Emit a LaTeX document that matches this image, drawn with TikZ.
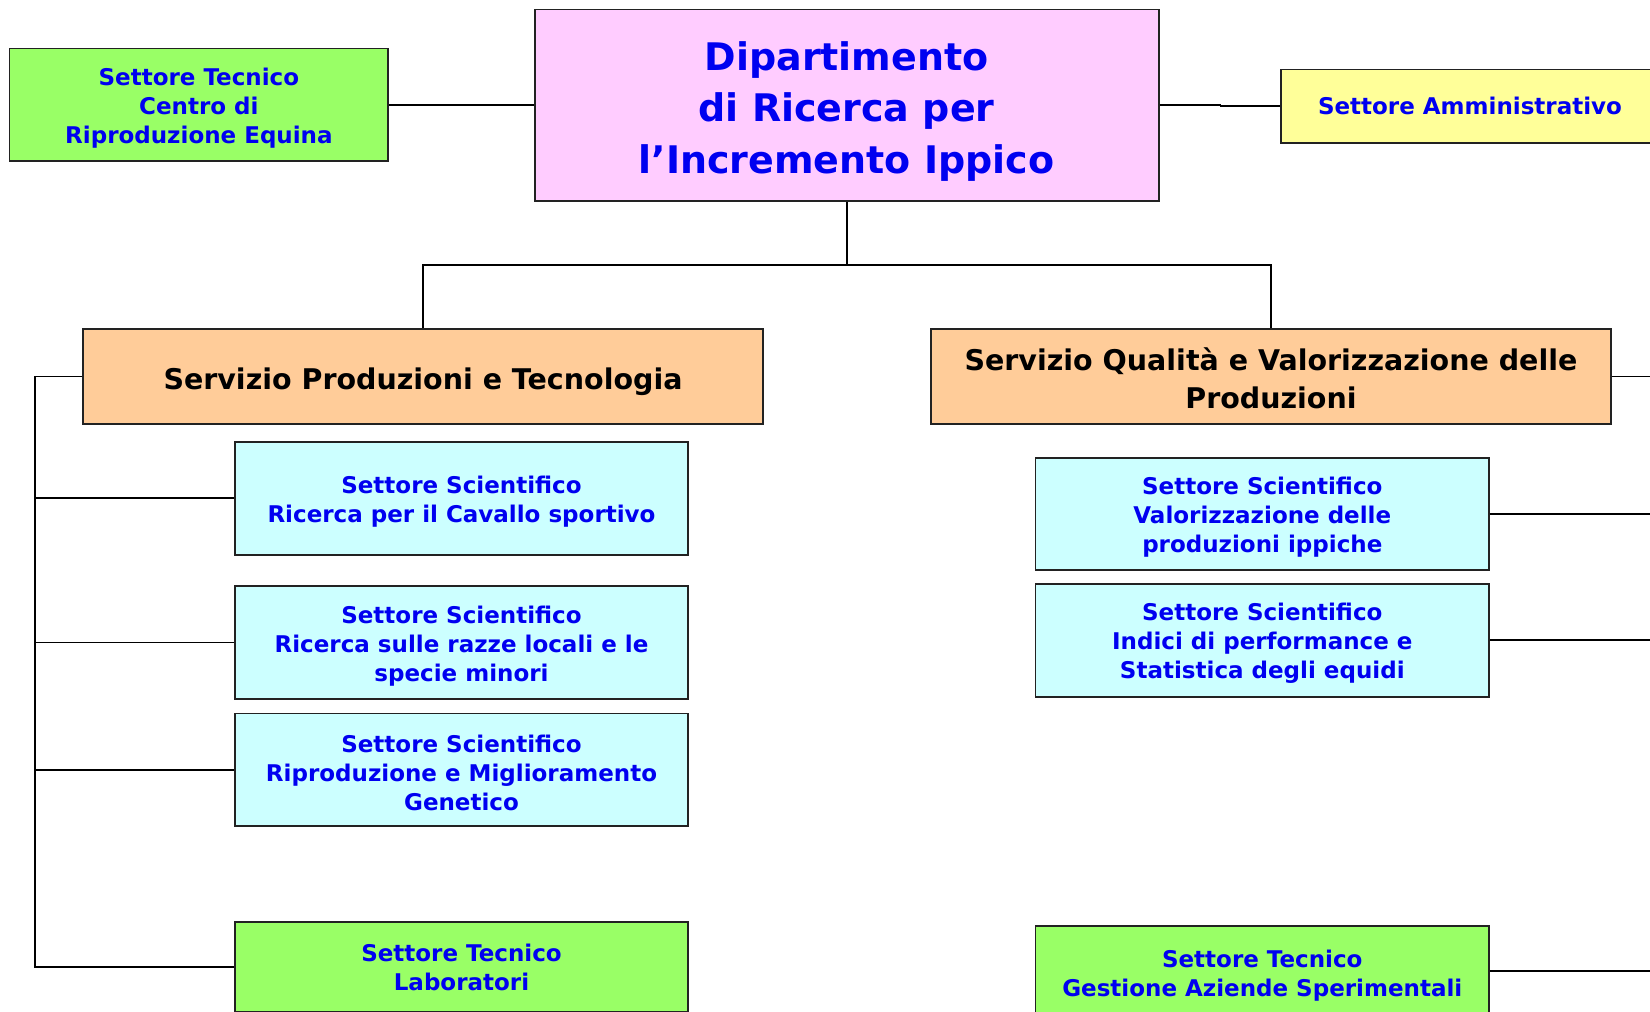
\documentclass[tikz,border=0pt]{standalone}
\usepackage{fontspec}
\setmainfont{DejaVu Sans}
\definecolor{pinkbg}{HTML}{FFCCFF}
\definecolor{greenbg}{HTML}{99FF66}
\definecolor{yellowbg}{HTML}{FFFF99}
\definecolor{orangebg}{HTML}{FFCC99}
\definecolor{cyanbg}{HTML}{CCFFFF}
\definecolor{txtblue}{HTML}{0000F0}
\definecolor{edge}{HTML}{222222}
\newcommand\lnup[1]{\rule{0pt}{#1pt}}
\tikzset{
  box/.style={draw=edge, line width=1.8pt, inner sep=0pt, align=center, text=txtblue,
    font=\bfseries\fontsize{23}{29}\selectfont},
  greenbox/.style={box, fill=greenbg},
  cyanbox/.style={box, fill=cyanbg, minimum width=453.5pt, minimum height=112.6pt},
  orangebox/.style={box, fill=orangebg, text=black, minimum width=680pt, minimum height=95pt,
    font=\bfseries\fontsize{28.5}{38}\selectfont},
  conn/.style={draw=black, line width=1.8pt},
}
\begin{document}
\begin{tikzpicture}[x=1pt,y=-1pt]
\useasboundingbox (0,0) rectangle (1650,1012);
\clip (0,0) rectangle (1650,1012);
% nodes
\node[box, fill=pinkbg, minimum width=624pt, minimum height=191.5pt,
  font=\bfseries\fontsize{38}{51.5}\selectfont] (main) at (846.6,105.2)
  {\lnup{41}Dipartimento\\di Ricerca per\\l’Incremento Ippico};
\node[greenbox, minimum width=378.8pt, minimum height=112.6pt] (ctr) at (198.9,104.7)
  {\lnup{24}Settore Tecnico\\Centro di\\Riproduzione Equina};
\node[box, fill=yellowbg, minimum width=378pt, minimum height=73.6pt] (amm) at (1470,106.3)
  {Settore Amministrativo};
\node[orangebox] (sp) at (423,376.5) {\lnup{32}Servizio Produzioni e Tecnologia};
\node[orangebox] (sq) at (1271,376.5) {\lnup{26}Servizio Qualità e Valorizzazione delle\\Produzioni};
\node[cyanbox] (s1) at (461.5,498.3)
  {\lnup{24}Settore Scientifico\\Ricerca per il Cavallo sportivo};
\node[cyanbox] (s2) at (461.5,642.4)
  {\lnup{24}Settore Scientifico\\Ricerca sulle razze locali e le\\specie minori};
\node[cyanbox] (s3) at (461.5,769.8)
  {\lnup{24}Settore Scientifico\\Riproduzione e Miglioramento\\Genetico};
\node[greenbox, minimum width=453.5pt, minimum height=90pt] (lab) at (461.5,967)
  {Settore Tecnico\\Laboratori};
\node[cyanbox] (q1) at (1262.3,514)
  {\lnup{24}Settore Scientifico\\Valorizzazione delle\\produzioni ippiche};
\node[cyanbox] (q2) at (1262.3,640.3)
  {\lnup{24}Settore Scientifico\\Indici di performance e\\Statistica degli equidi};
\node[greenbox, minimum width=453.5pt, minimum height=90pt] (gest) at (1262.3,971)
  {\lnup{26}Settore Tecnico\\Gestione Aziende Sperimentali};
% coordinates
\coordinate (tbus) at (846.6,265);
\coordinate (lbus) at (34.7,376.5);
\coordinate (rx) at (1660,0);
% connectors
\draw[conn] (ctr.east) -- (ctr.east -| main.west);
\draw[conn] (main.east) -- ++(61,0) |- (amm.west);
\draw[conn] (main.south) -- (tbus);
\draw[conn] (sp.north) |- (tbus) -| (sq.north);
\draw[conn] (sp.west) -- (lbus) |- (lab.west);
\draw[conn] (s1.west) -- (s1.west -| lbus);
\draw[conn] (s2.west) -- (s2.west -| lbus);
\draw[conn] (s3.west) -- (s3.west -| lbus);
\draw[conn] (sq.east) -- (sq.east -| rx);
\draw[conn] (q1.east) -- (q1.east -| rx);
\draw[conn] (q2.east) -- (q2.east -| rx);
\draw[conn] (gest.east) -- (gest.east -| rx);
\end{tikzpicture}
\end{document}
